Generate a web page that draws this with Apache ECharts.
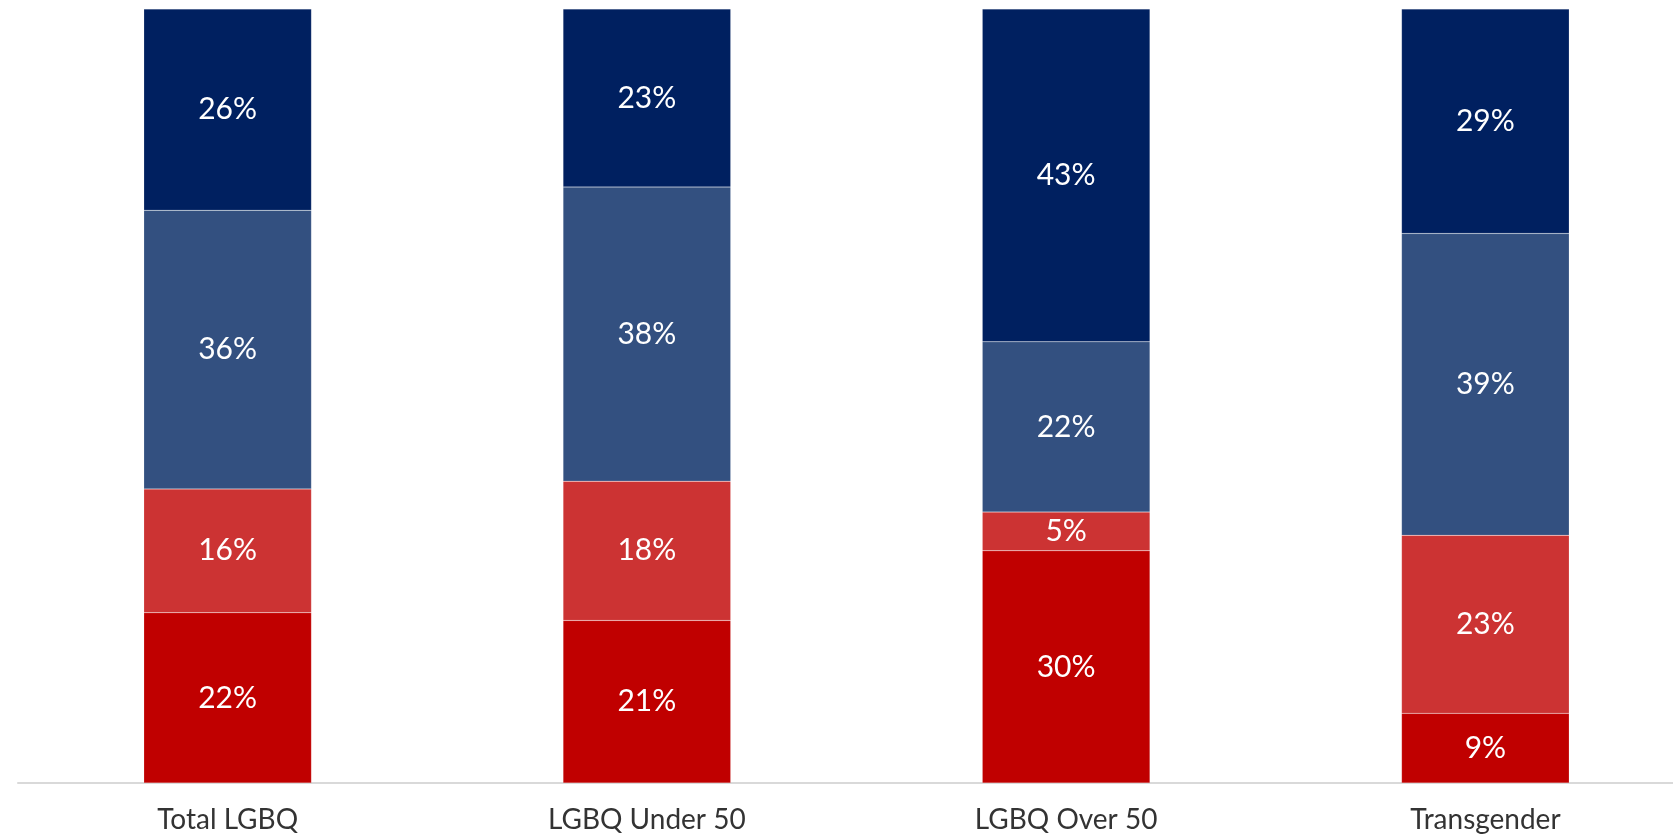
<!DOCTYPE html>
<html>
<head>
<meta charset="utf-8">
<script src="https://cdn.jsdelivr.net/npm/echarts@6/dist/echarts.min.js"></script>
<style>html,body{margin:0;padding:0;background:#fff;overflow:hidden;}#c{width:1700px;height:836px;}</style>
</head>
<body>
<div id="c"></div>
<script>
const categories = ['Total LGBQ', 'LGBQ Under 50', 'LGBQ Over 50', 'Transgender'];
const seriesA = [22, 21, 30, 9];   // dark red (bottom)
const seriesB = [16, 18, 5, 23];   // light red
const seriesC = [36, 38, 22, 39];  // slate blue
const seriesD = [26, 23, 43, 29];  // navy (top)
const colors = ['#C00000', '#CC3333', '#335080', '#002060'];

const chart = echarts.init(document.getElementById('c'), null, {renderer: 'canvas'});
const mk = (data, i) => ({
  type: 'bar', stack: 'all', data: data, barWidth: '40%',
  itemStyle: {color: colors[i], borderColor: 'rgba(255,255,255,0.25)', borderWidth: 0.5},
  label: {show: true, position: 'inside', formatter: '{c}%', color: '#fff', fontSize: 30, fontFamily: 'Lato'}
});
chart.setOption({
  animation: false,
  grid: {left: 18, right: 5, top: 9, bottom: 53, containLabel: false},
  xAxis: {
    type: 'category', data: categories,
    axisLine: {lineStyle: {color: '#d9d9d9', width: 2}},
    axisTick: {show: false},
    axisLabel: {color: '#333', fontSize: 28, fontFamily: 'Lato', margin: 23}
  },
  yAxis: {type: 'value', min: 0, max: 100, show: false},
  series: [mk(seriesA, 0), mk(seriesB, 1), mk(seriesC, 2), mk(seriesD, 3)]
});
</script>
</body>
</html>
